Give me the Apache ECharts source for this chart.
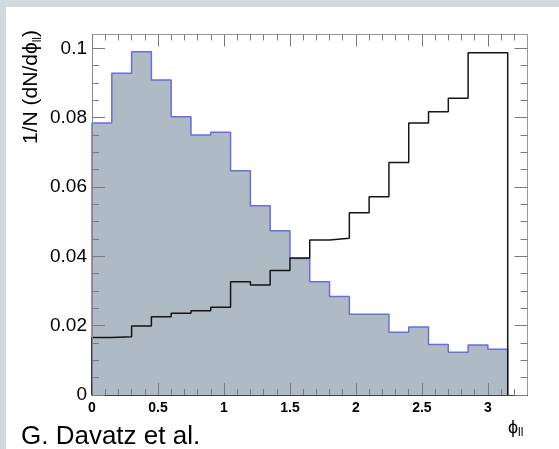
<!DOCTYPE html>
<html>
<head>
<meta charset="utf-8">
<script src="https://cdn.jsdelivr.net/npm/echarts@6/dist/echarts.min.js"></script>
<style>
html,body{margin:0;padding:0;background:#ffffff;}
#chart{width:559px;height:449px;}
</style>
</head>
<body>
<div id="chart"></div>
<script>
// Bin edges (phi_ll)
const binEdges = [0, 0.15, 0.3, 0.45, 0.6, 0.75, 0.9, 1.05, 1.2, 1.35, 1.5, 1.65, 1.8, 1.95, 2.1, 2.25, 2.4, 2.55, 2.7, 2.85, 3.0, 3.15];
// Filled histogram (blue outline)
const filledValues = [0.0785, 0.0928, 0.0990, 0.0909, 0.0803, 0.0750, 0.0758, 0.0647, 0.0546, 0.0474, 0.0394, 0.0327, 0.0284, 0.0233, 0.0233, 0.0181, 0.0196, 0.0146, 0.0123, 0.0144, 0.0132];
// Black outline histogram
const outlineValues = [0.0166, 0.0168, 0.0199, 0.0226, 0.0236, 0.0243, 0.0253, 0.0327, 0.0317, 0.0359, 0.0395, 0.0447, 0.0452, 0.0526, 0.0572, 0.0671, 0.0785, 0.0817, 0.0856, 0.0987, 0.0987];
// Ticks
const xMajorTicks = [0, 0.5, 1, 1.5, 2, 2.5, 3];
const xMinorTicks = [0.1, 0.2, 0.3, 0.4, 0.6, 0.7, 0.8, 0.9, 1.1, 1.2, 1.3, 1.4, 1.6, 1.7, 1.8, 1.9, 2.1, 2.2, 2.3, 2.4, 2.6, 2.7, 2.8, 2.9, 3.1, 3.2];
const yMajorTicks = [0, 0.02, 0.04, 0.06, 0.08, 0.1];
const yMinorTicks = [0.005, 0.01, 0.015, 0.025, 0.03, 0.035, 0.045, 0.05, 0.055, 0.065, 0.07, 0.075, 0.085, 0.09, 0.095];
const xRange = [0, 3.3];
const yRange = [0, 0.104];

function stepPoints(edges, vals) {
  const pts = [[edges[0], 0]];
  for (let i = 0; i < vals.length; i++) {
    pts.push([edges[i], vals[i]]);
    pts.push([edges[i + 1], vals[i]]);
  }
  pts.push([edges[vals.length], 0]);
  return pts;
}

const FONT = '"Liberation Sans", Arial, Helvetica, sans-serif';
const tickColor = '#7a7a7a';

function xAxisDef(pos, major, showLabel, lineColor) {
  return {
    type: 'value', min: xRange[0], max: xRange[1], position: pos, z: 10,
    axisLine: { show: major, onZero: false, lineStyle: { color: lineColor, width: 1 } },
    axisTick: { show: true, inside: true, length: major ? 12 : 6, customValues: major ? xMajorTicks : xMinorTicks, lineStyle: { color: tickColor, width: 1 } },
    axisLabel: { show: showLabel, customValues: xMajorTicks, fontSize: 14, fontWeight: 'bold', fontFamily: FONT, color: '#000', margin: 6 },
    splitLine: { show: false }, minorTick: { show: false }
  };
}
function yAxisDef(pos, major, showLabel, lineColor) {
  return {
    type: 'value', min: yRange[0], max: yRange[1], position: pos, z: 10,
    axisLine: { show: major, onZero: false, lineStyle: { color: lineColor, width: 1 } },
    axisTick: { show: true, inside: true, length: major ? 13 : 7, customValues: major ? yMajorTicks : yMinorTicks, lineStyle: { color: tickColor, width: 1 } },
    axisLabel: { show: showLabel, customValues: yMajorTicks, fontSize: 19, fontFamily: FONT, color: '#000', margin: 5 },
    splitLine: { show: false }, minorTick: { show: false }
  };
}

const chart = echarts.init(document.getElementById('chart'), null, { renderer: 'canvas' });
chart.setOption({
  animation: false,
  backgroundColor: '#ffffff',
  grid: { left: 92, top: 34.5, right: 31.5, bottom: 54, containLabel: false },
  xAxis: [
    xAxisDef('bottom', true, true, '#444'),
    xAxisDef('bottom', false, false, '#444'),
    xAxisDef('top', true, false, '#999'),
    xAxisDef('top', false, false, '#999')
  ],
  yAxis: [
    yAxisDef('left', true, true, '#888'),
    yAxisDef('left', false, false, '#888'),
    yAxisDef('right', true, false, '#999'),
    yAxisDef('right', false, false, '#999')
  ],
  series: [
    {
      type: 'line', xAxisIndex: 0, yAxisIndex: 0, z: 2,
      data: stepPoints(binEdges, filledValues),
      showSymbol: false, symbol: 'none',
      lineStyle: { color: '#6b6be3', width: 1.5 },
      areaStyle: { color: '#aebbc5', opacity: 1 }
    },
    {
      type: 'line', xAxisIndex: 0, yAxisIndex: 0, z: 3,
      data: stepPoints(binEdges, outlineValues),
      showSymbol: false, symbol: 'none',
      lineStyle: { color: '#151515', width: 1.5 }
    }
  ],
  graphic: [
    { type: 'rect', left: 0, top: 0, shape: { width: 559, height: 7 }, style: { fill: '#d3d7de' }, z: 100 },
    { type: 'rect', left: 0, top: 0, shape: { width: 6, height: 449 }, style: { fill: '#d3d7de' }, z: 100 },
    {
      type: 'text', x: 31, y: 30, rotation: Math.PI / 2, z: 100,
      style: {
        text: '1/N (dN/dϕ{s|ll})',
        font: '21px ' + FONT, fill: '#000',
        align: 'right', verticalAlign: 'middle', lineHeight: 26,
        rich: { s: { fontSize: 12, fontFamily: FONT, lineHeight: 8, verticalAlign: 'bottom', fill: '#000' } }
      }
    },
    {
      type: 'text', x: 508, y: 428, z: 100,
      style: {
        text: 'ϕ{s|ll}',
        font: '18px ' + FONT, fill: '#000',
        align: 'left', verticalAlign: 'middle', lineHeight: 22,
        rich: { s: { fontSize: 12, fontFamily: FONT, lineHeight: 6, verticalAlign: 'bottom', fill: '#000' } }
      }
    },
    {
      type: 'text', x: 21, y: 437, z: 100,
      style: { text: 'G. Davatz et al.', font: '26px ' + FONT, fill: '#000', align: 'left', verticalAlign: 'middle' }
    }
  ]
});
</script>
</body>
</html>
